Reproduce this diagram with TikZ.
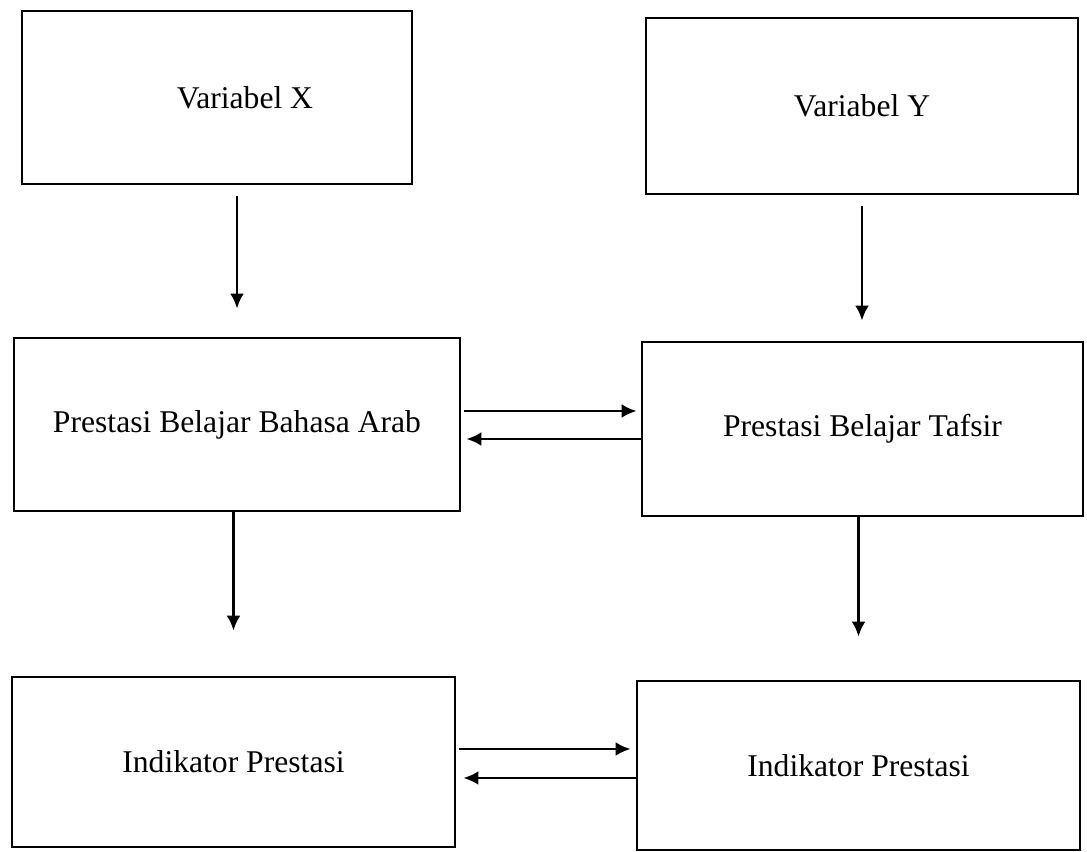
\documentclass[tikz,border=0pt]{standalone}
\usepackage{fontspec}
\setmainfont{Liberation Serif}
\usepackage{tikz}
\usetikzlibrary{arrows.meta}

\begin{document}
\begin{tikzpicture}[line width=1.6pt, >={Latex[length=3mm,width=2.8mm]},
  every node/.style={font=\fontsize{18}{22}\selectfont},
  kotak/.style={draw, line width=1.6pt, rectangle, anchor=center, inner sep=0pt}]
\useasboundingbox (0,0) rectangle (21.74,-17.04);

\node[kotak, minimum width=7.8cm, minimum height=3.46cm, label={[xshift=0.56cm]center:Variabel X}] (varx) at (4.34,-1.95) {};
\node[kotak, minimum width=8.64cm, minimum height=3.52cm] (vary) at (17.24,-2.12) {Variabel Y};
\node[kotak, minimum width=8.92cm, minimum height=3.46cm] (arab) at (4.74,-8.49) {Prestasi Belajar Bahasa Arab};
\node[kotak, minimum width=8.82cm, minimum height=3.48cm] (tafsir) at (17.25,-8.58) {Prestasi Belajar Tafsir};
\node[kotak, minimum width=8.86cm, minimum height=3.4cm] (indx) at (4.67,-15.24) {Indikator Prestasi};
\node[kotak, minimum width=8.86cm, minimum height=3.38cm] (indy) at (17.17,-15.31) {Indikator Prestasi};

\draw[shorten <=0.22cm,shorten >=0.56cm,->] (varx.south -| arab.north)--(arab.north);
\draw[shorten <=0.22cm,shorten >=0.4cm,->] (vary.south)--(vary.south |- tafsir.north);
\draw[shorten >=0.9cm,->] (indx.north |- arab.south)--(indx.north);
\draw[shorten >=0.86cm,->] (indy.north |- tafsir.south)--(indy.north);

\draw[shorten <=0.06cm,shorten >=0.08cm,->] ([yshift=0.27cm]arab.east)--([yshift=0.27cm]arab.east -| tafsir.west);
\draw[shorten >=0.1cm,->] ([yshift=-0.29cm]arab.east -| tafsir.west)--([yshift=-0.29cm]arab.east);
\draw[shorten <=0.06cm,shorten >=0.1cm,->] ([yshift=0.26cm]indx.east)--([yshift=0.26cm]indx.east -| indy.west);
\draw[shorten >=0.14cm,->] ([yshift=-0.32cm]indx.east -| indy.west)--([yshift=-0.32cm]indx.east);

\end{tikzpicture}
\end{document}
